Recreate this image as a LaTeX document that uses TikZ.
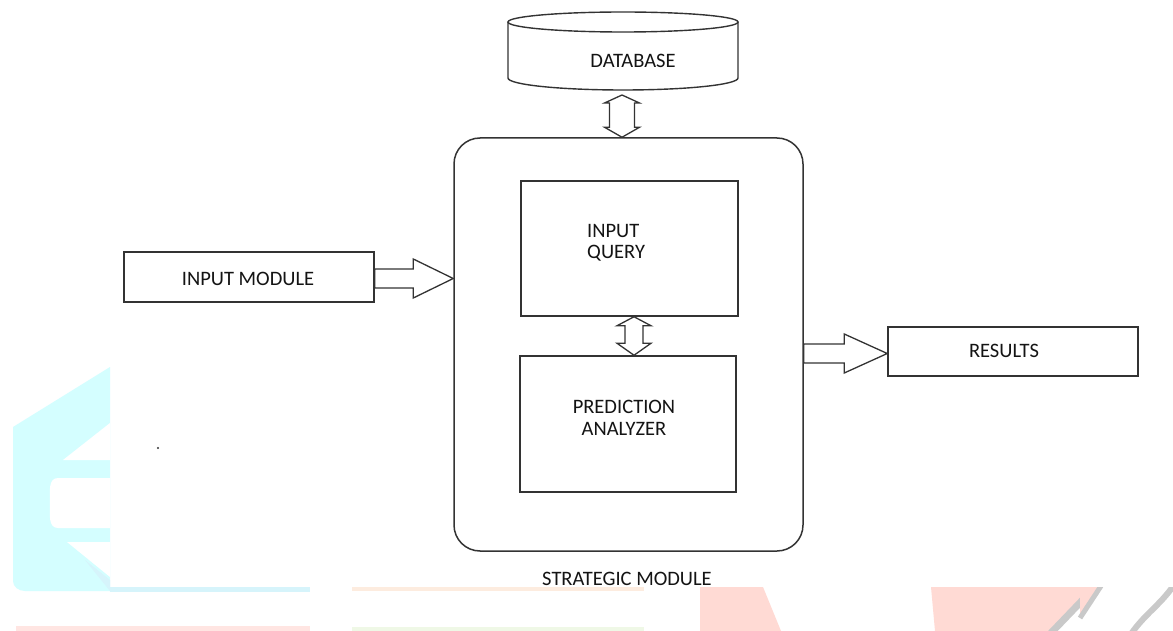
\documentclass[tikz,border=0pt]{standalone}
\usepackage{fontspec}
\setmainfont{Carlito}
\usetikzlibrary{calc}

% colours
\definecolor{ink}{HTML}{333333}
\definecolor{txt}{HTML}{141414}
\definecolor{wmcyan}{HTML}{D4FEFF}
\definecolor{wmblue}{HTML}{D6F4FB}
\definecolor{wmpeach}{HTML}{FDECDF}
\definecolor{wmpink}{HTML}{FFDAD4}
\definecolor{wmrose}{HTML}{FFE5E2}
\definecolor{wmgreen}{HTML}{EFF8E6}
\definecolor{wmgray}{HTML}{C9C9C9}

\tikzset{
  box/.style={draw=ink, line width=1.5pt, fill=white, rectangle, inner sep=0pt},
  lbl/.style={text=txt, font=\fontsize{20.5}{21.5}\selectfont, inner sep=0pt, align=center},
  blk/.style={draw=ink, line width=1.3pt, fill=white, line join=miter},
}

% single block arrow: start, tip, shaft half width, head half width, head length
\newcommand\blockarrow[5]{%
  \coordinate (ba-h) at ($(#2)!#5!(#1)$);
  \draw[blk] ($(#1)!#3!90:(#2)$) -- ($(ba-h)!#3!90:(#2)$) -- ($(ba-h)!#4!90:(#2)$)
    -- (#2) -- ($(ba-h)!#4!-90:(#2)$) -- ($(ba-h)!#3!-90:(#2)$)
    -- ($(#1)!#3!-90:(#2)$) -- cycle;}
% double block arrow: end, end, shaft half width, head half width, head lengths
\newcommand\dblarrow[6]{%
  \coordinate (da-a) at ($(#1)!#5!(#2)$);
  \coordinate (da-b) at ($(#2)!#6!(#1)$);
  \draw[blk] (#1) -- ($(da-a)!#4!90:(#2)$) -- ($(da-a)!#3!90:(#2)$)
    -- ($(da-b)!#3!90:(#2)$) -- ($(da-b)!#4!90:(#2)$) -- (#2)
    -- ($(da-b)!#4!-90:(#2)$) -- ($(da-b)!#3!-90:(#2)$)
    -- ($(da-a)!#3!-90:(#2)$) -- ($(da-a)!#4!-90:(#2)$) -- cycle;}

\begin{document}
\begin{tikzpicture}[x=1pt, y=-1pt]
\useasboundingbox (0,0) rectangle (1173,631);
\fill[white] (0,0) rectangle (1173,631);

% faint background emblem
\fill[wmcyan] (13,427) -- (110,367) -- (110,591) -- (25,591)
  to[out=180,in=-90] (13,581) -- cycle;
\fill[white] (110,423) -- (63,460) -- (110,460) -- cycle;
\fill[white] (110,478) -- (58,478) to[out=180,in=90] (50,503)
  to[out=-90,in=180] (58,528) -- (110,528) -- cycle;
\fill[white] (110,542) -- (67,542) -- (110,577) -- cycle;
\fill[wmblue] (85,560) -- (110,580) -- (110,591) -- cycle;
\begin{scope}
  \clip (0,587) rectangle (1173,631);
  \fill[wmblue] (110,587) rectangle (310,592);
  \fill[wmrose] (16,626) rectangle (310,631);
  \fill[wmpeach] (352,587) rectangle (644,591);
  \fill[wmgreen] (352,627) rectangle (644,631);
  \fill[wmpink] (700,587) -- (763,587) -- (781,631) -- (700,631) -- cycle;
  \fill[wmpink] (931,587) -- (1099,587) -- (1053,631) -- (935,631) -- cycle;
  \draw[wmgray, line width=7pt] (1097,585) -- (1050,634);
  \fill[wmpink] (1080,587) -- (1100,587) -- (1080,617) -- cycle;
  \draw[wmgray, line width=5pt] (1101,586) -- (1080,618);
  \draw[wmgray, line width=6pt] (1174,585) to[out=235,in=55] (1131,634);
\end{scope}

% database cylinder
\begin{scope}[draw=ink, line width=1.4pt]
  \fill[white] (508,22) -- (508,78) arc[start angle=180, end angle=360, x radius=115, y radius=-12]
    -- (738,22) -- cycle;
  \draw (508,22) -- (508,78) arc[start angle=180, end angle=360, x radius=115, y radius=-12] -- (738,22);
  \draw[fill=white] (623,22) ellipse[x radius=115, y radius=10];
\end{scope}
\node[lbl] (db) at (633,61) {DATABASE};
\coordinate (dbbot) at (622,95);

% strategic module and inner blocks
\node[box, rounded corners=26pt, minimum width=349pt, minimum height=413pt] (strat) at (628.5,344.5) {};
\node[lbl] (stratlbl) at (627,579) {STRATEGIC MODULE};
\node[box, minimum width=217pt, minimum height=135pt] (query) at (629.5,248.5) {};
\node[lbl, align=left, anchor=west] (qtxt) at (587,243) {INPUT\\QUERY};
\node[box, minimum width=216pt, minimum height=136pt] (anal) at (628,424) {};
\node[lbl] (atxt) at (624,418) {PREDICTION\\ANALYZER};

% side blocks
\node[box, minimum width=250pt, minimum height=50pt] (inmod) at (249,277) {};
\node[lbl] at (248,279) {INPUT MODULE};
\node[box, minimum width=250pt, minimum height=49pt] (res) at (1013,351.5) {};
\node[lbl] at (1004,351) {RESULTS};

% connectors
\coordinate (dbtop) at (dbbot |- strat.north);
\dblarrow{dbbot}{dbtop}{12.5pt}{17.5pt}{8pt}{10pt}
\coordinate (qa1) at (query.south -| 634,0);
\coordinate (qa2) at (anal.north -| 634,0);
\dblarrow{qa1}{qa2}{9pt}{17pt}{9pt}{12pt}
\coordinate (inA) at (inmod.east |- 0,278.5);
\coordinate (inB) at (inA -| strat.west);
\blockarrow{inA}{inB}{9.5pt}{19.5pt}{40pt}
\coordinate (outA) at (strat.east |- 0,353.5);
\coordinate (outB) at (outA -| res.west);
\blockarrow{outA}{outB}{9.5pt}{19.5pt}{43pt}

% stray mark
\fill[ink] (158,448) circle[radius=1.1];
\end{tikzpicture}
\end{document}
